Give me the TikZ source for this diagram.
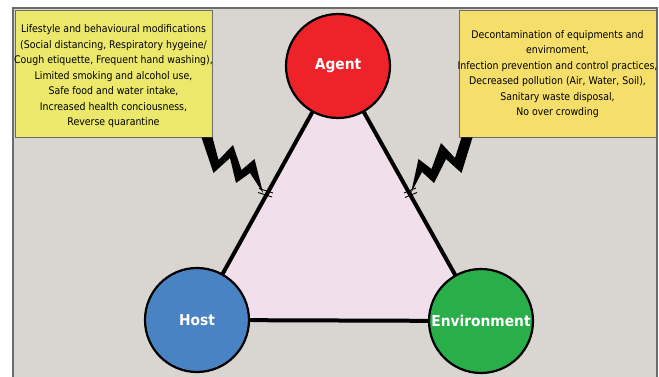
\documentclass[tikz,border=0pt]{standalone}
\usepackage{fontspec}
\setmainfont{DejaVu Sans}[FakeStretch=0.895]
\newfontfamily\circfont{DejaVu Sans}[FakeStretch=0.92]
\definecolor{bggray}{HTML}{D9D6D2}
\definecolor{framegray}{HTML}{6E6C6A}
\definecolor{trifill}{HTML}{F1E0EC}
\definecolor{agentred}{HTML}{EE2229}
\definecolor{hostblue}{HTML}{4A83C4}
\definecolor{envgreen}{HTML}{2AAE4A}
\definecolor{boxleft}{HTML}{EBE86C}
\definecolor{boxright}{HTML}{F5DF6A}
\tikzset{
  circ/.style={circle, draw=black, line width=2.2pt, minimum size=104pt, inner sep=0pt,
    text=white, font=\circfont\bfseries\fontsize{15}{18}\selectfont},
  infobox/.style={draw=framegray, line width=0.9pt, minimum width=197pt, minimum height=127pt,
    inner sep=0pt},
  infotext/.style={inner sep=0pt, align=center, font=\fontsize{10.5}{15.5}\selectfont},
  edge/.style={line width=4pt},
  bolt/.style={fill=black},
  tick/.style={line width=0.9pt}
}
\begin{document}
\begin{tikzpicture}[x=1pt,y=-1pt]
\useasboundingbox (0,0) rectangle (659,377);
\fill[white] (0,0) rectangle (659,377);
\fill[bggray] (13,8) rectangle (657,380);
\draw[framegray, line width=1.6pt] (13,380) -- (13,8) -- (657,8) -- (657,380);
% triangle
\coordinate (A) at (338,66);
\coordinate (H) at (197,320);
\coordinate (E) at (481,321);
\fill[trifill] (A) -- (H) -- (E) -- cycle;
\draw[edge] (A) -- (H) -- (E) -- cycle;
% circles
\node[circ, fill=agentred] (agent) at (A) {Agent};
\node[circ, fill=hostblue] (host) at (H) {Host};
\node[circ, fill=envgreen] (env) at (E) {Environment};
% boxes
\node[infobox, fill=boxleft] (lbox) at (113.5,73.5) {};
\node[infotext] (ltext) at (113.5,76.5) {Lifestyle and behavioural modifications\\(Social distancing, Respiratory hygeine/\\Cough etiquette, Frequent hand washing),\\Limited smoking and alcohol use,\\Safe food and water intake,\\Increased health conciousness,\\Reverse quarantine};
\node[infobox, fill=boxright] (rbox) at (557.5,74) {};
\node[infotext] (rtext) at (557.5,74) {Decontamination of equipments and\\envirnoment,\\Infection prevention and control practices,\\Decreased pollution (Air, Water, Soil),\\Sanitary waste disposal,\\No over crowding};
% left bolt
\fill[bolt] (201.5,137.5) -- (213.5,173) -- (230,158) -- (236,183) -- (250,173) -- (263,193)
  -- (254.5,159) -- (241.5,170) -- (233,145) -- (218.5,160) -- (212.5,137.5) -- cycle;
\draw[tick] (259,188.5) -- (273,193);
\draw[tick] (258,192.5) -- (272,197);
% right bolt
\fill[bolt] (472.5,137.5) -- (461.5,173) -- (446,159) -- (434,183) -- (422,172) -- (411,193)
  -- (418.5,159) -- (431.5,169) -- (441,143) -- (455,158) -- (461.5,137.5) -- cycle;
\draw[tick] (404,193) -- (416,188);
\draw[tick] (405,197.5) -- (417,192.5);
\end{tikzpicture}
\end{document}
